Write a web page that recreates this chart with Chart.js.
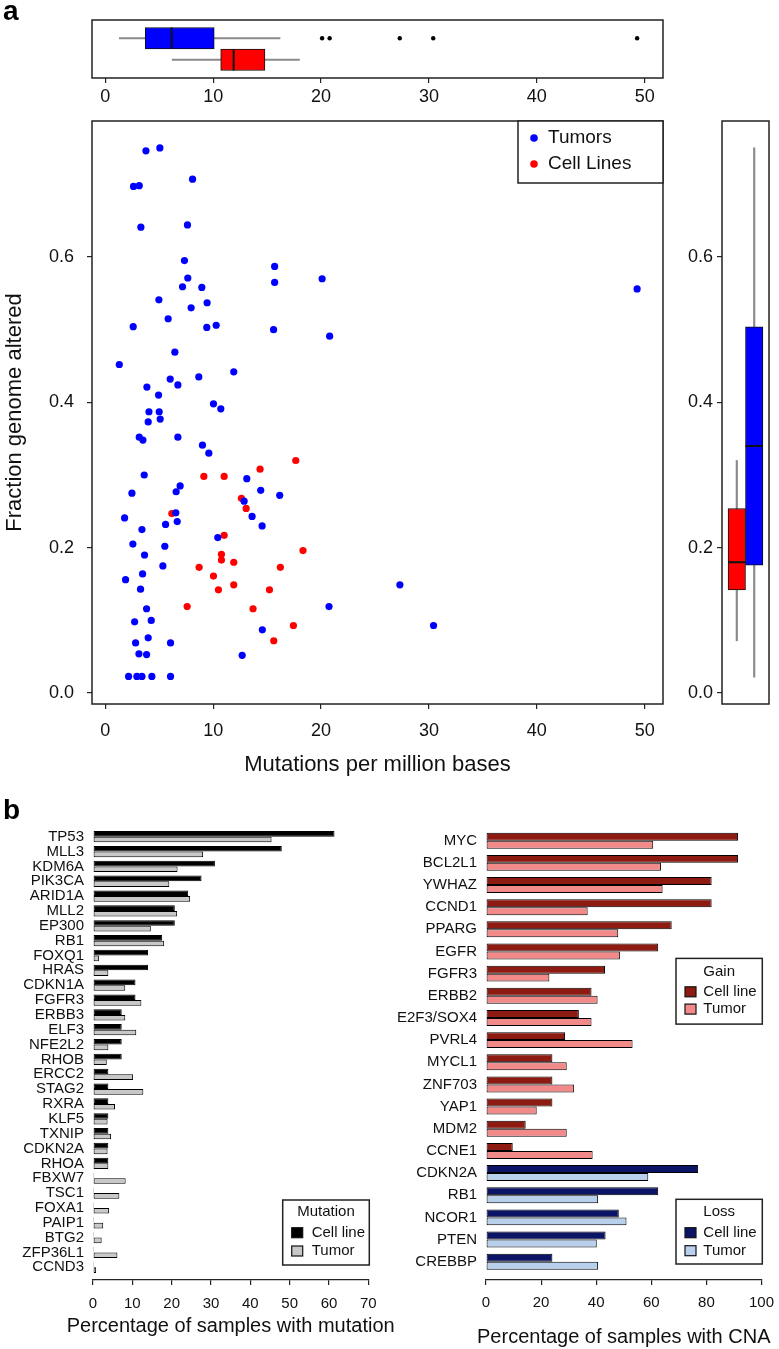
<!DOCTYPE html>
<html><head><meta charset="utf-8">
<script src="https://cdn.jsdelivr.net/npm/chart.js@4.4.1/dist/chart.umd.min.js"></script>
<style>
html,body{margin:0;padding:0;background:#fff;}
#wrap{position:relative;width:779px;height:1349px;overflow:hidden;background:#fff;}
canvas{position:absolute;}
.lbl{position:absolute;font-family:'Liberation Sans',Arial,sans-serif;font-weight:bold;font-size:28px;line-height:1;color:#000;}
</style></head><body>
<div id="wrap">
<canvas id="cTop" width="779" height="110" style="left:0;top:0"></canvas>
<canvas id="cSc" width="672" height="680" style="left:0;top:110px"></canvas>
<canvas id="cRb" width="107" height="680" style="left:672px;top:110px"></canvas>
<canvas id="cMut" width="400" height="549" style="left:0;top:800px"></canvas>
<canvas id="cCna" width="389" height="549" style="left:390px;top:800px"></canvas>
<div class="lbl" style="left:3px;top:-3px">a</div>
<div class="lbl" style="left:3px;top:796px">b</div>
</div>
<script>
// ---------------- DATA ----------------
const tumorX = [3.77,5.06,8.09,2.62,3.15,3.30,7.62,7.34,15.7,7.65,15.7,7.16,8.95,20.1,4.97,9.44,7.96,5.83,2.59,9.41,10.28,15.6,20.8,6.45,1.30,11.91,8.67,6.02,3.86,6.73,4.94,49.3,10.03,10.71,4.05,5.0,3.98,5.09,3.15,3.49,6.73,9.01,9.60,3.61,13.12,14.41,16.17,2.47,6.94,6.57,12.87,13.61,14.54,1.79,6.54,6.67,5.59,3.40,10.43,2.56,5.52,3.64,5.34,3.46,1.88,3.27,3.83,2.72,4.26,14.56,3.98,2.81,6.05,3.12,3.83,12.69,2.16,2.93,3.40,4.32,6.05,27.31,20.74,30.43];
const tumorY = [0.746,0.750,0.707,0.697,0.698,0.641,0.644,0.595,0.587,0.571,0.565,0.559,0.558,0.570,0.541,0.537,0.530,0.515,0.504,0.503,0.506,0.500,0.491,0.469,0.452,0.442,0.435,0.432,0.421,0.424,0.410,0.556,0.398,0.391,0.387,0.387,0.373,0.377,0.352,0.348,0.352,0.341,0.330,0.300,0.295,0.279,0.272,0.275,0.285,0.277,0.264,0.243,0.230,0.241,0.248,0.236,0.232,0.225,0.214,0.205,0.202,0.190,0.175,0.164,0.156,0.143,0.116,0.098,0.100,0.087,0.076,0.069,0.069,0.054,0.053,0.052,0.023,0.023,0.023,0.023,0.023,0.149,0.119,0.093];
const cellX = [9.14,11.02,14.35,17.66,12.62,13.06,6.17,11.02,18.33,10.77,10.77,11.91,8.70,16.23,10.03,10.49,11.91,15.22,7.59,13.70,17.44,15.62];
const cellY = [0.298,0.298,0.308,0.320,0.268,0.254,0.247,0.217,0.196,0.191,0.183,0.180,0.173,0.173,0.161,0.142,0.149,0.142,0.119,0.116,0.093,0.072];

const boxGroups = ['Cell Lines', 'Tumors'];
const boxPos = [1, 2];
// mutations per Mb (top boxplot)
const mutLo = [6.2, 1.3];
const mutQ1 = [10.7, 3.7];
const mutMed = [11.9, 6.15];
const mutQ3 = [14.8, 10.1];
const mutHi = [18.0, 16.2];
const mutOutliers = [20.1, 20.8, 27.3, 30.4, 49.3];
// fraction genome altered (right boxplot)
const fgaLo = [0.072, 0.022];
const fgaQ1 = [0.142, 0.176];
const fgaMed = [0.180, 0.340];
const fgaQ3 = [0.254, 0.504];
const fgaHi = [0.320, 0.750];

const mutTicksX = [0, 10, 20, 30, 40, 50];
const fgaTicks = [0, 0.2, 0.4, 0.6];

const mutGenes = ['TP53','MLL3','KDM6A','PIK3CA','ARID1A','MLL2','EP300','RB1','FOXQ1','HRAS','CDKN1A','FGFR3','ERBB3','ELF3','NFE2L2','RHOB','ERCC2','STAG2','RXRA','KLF5','TXNIP','CDKN2A','RHOA','FBXW7','TSC1','FOXA1','PAIP1','BTG2','ZFP36L1','CCND3'];
const mutCell  = [61.4,48.0,31.0,27.6,24.2,20.8,20.8,17.6,14.0,14.0,10.8,10.8,7.3,7.3,7.3,7.3,3.9,3.9,3.9,3.9,3.9,3.9,3.9,0,0,0,0,0,0,0];
const mutTumor = [45.4,28.0,21.5,19.4,24.7,21.4,14.7,18.1,1.5,3.9,8.2,12.3,8.2,11.0,3.9,3.5,10.2,12.8,5.6,3.7,4.6,3.7,3.9,8.3,6.7,4.1,2.6,2.2,6.2,0.8];
const mutTicks = [0, 10, 20, 30, 40, 50, 60, 70];

const cnaGenes = ['MYC','BCL2L1','YWHAZ','CCND1','PPARG','EGFR','FGFR3','ERBB2','E2F3/SOX4','PVRL4','MYCL1','ZNF703','YAP1','MDM2','CCNE1','CDKN2A','RB1','NCOR1','PTEN','CREBBP'];
const cnaType  = ['gain','gain','gain','gain','gain','gain','gain','gain','gain','gain','gain','gain','gain','gain','gain','loss','loss','loss','loss','loss'];
const cnaCell  = [91.5,91.5,81.9,81.9,67.4,62.5,43.2,38.3,33.7,28.7,24.1,24.1,24.1,14.4,9.7,77.0,62.5,48.2,43.4,24.1];
const cnaTumor = [60.7,63.5,64.1,36.9,48.0,48.6,23.0,40.5,38.3,53.2,29.3,32.0,18.4,29.3,38.7,58.9,40.7,51.0,40.2,40.7];
const cnaTicks = [0, 20, 40, 60, 80, 100];

// ---------------- STYLE ----------------
const FONT = "'Liberation Sans', Arial, Helvetica, sans-serif";
Chart.defaults.font.family = FONT;
Chart.defaults.color = '#111';
Chart.defaults.animation = false;
Chart.defaults.plugins.legend.display = false;
Chart.defaults.plugins.tooltip.enabled = false;

const COL = { tumor: '#0000ff', cell: '#ff0000', gainDark: '#8e1b12', gainLight: '#f38a8a', lossDark: '#0c1466', lossLight: '#b9d0ec', mutCell: '#000000', mutTumor: '#c8c8c8' };

function tickGrid() {
  return { display: true, drawOnChartArea: false, drawTicks: true, tickLength: 5, color: '#222', lineWidth: 1.2 };
}
const setTicks = arr => s => { s.ticks = arr.map(v => ({ value: v })); };

function framePlugin() {
  return { id: 'frame', afterDraw(chart) {
    const { ctx, chartArea: a } = chart;
    ctx.save(); ctx.strokeStyle = '#222'; ctx.lineWidth = 1.5;
    ctx.strokeRect(a.left, a.top, a.right - a.left, a.bottom - a.top);
    ctx.restore();
  } };
}
function medianPlugin(meds, horizontal) {
  return { id: 'medians', afterDatasetsDraw(chart) {
    const { ctx } = chart;
    const vs = chart.scales[horizontal ? 'x' : 'y'];
    const is = chart.scales[horizontal ? 'y' : 'x'];
    ctx.save(); ctx.strokeStyle = '#111'; ctx.lineWidth = 2;
    meds.forEach((m, i) => {
      const v = vs.getPixelForValue(m);
      const a = is.getPixelForValue(boxPos[i] - 0.5), b = is.getPixelForValue(boxPos[i] + 0.5);
      ctx.beginPath();
      if (horizontal) { ctx.moveTo(v, a); ctx.lineTo(v, b); } else { ctx.moveTo(a, v); ctx.lineTo(b, v); }
      ctx.stroke();
    });
    ctx.restore();
  } };
}
// axis title centred under the tick range (R style, not squeezed to the axis width)
function axisTitlePlugin(id, text, size, dy, ticks) {
  return { id, afterDraw(chart) {
    const { ctx, chartArea: a } = chart;
    const s = chart.scales.x;
    const cx = (s.getPixelForValue(ticks[0]) + s.getPixelForValue(ticks[ticks.length - 1])) / 2;
    ctx.save(); ctx.font = size + 'px ' + FONT; ctx.fillStyle = '#111';
    ctx.textAlign = 'center'; ctx.textBaseline = 'middle';
    ctx.fillText(text, cx, a.bottom + dy);
    ctx.restore();
  } };
}
// bordered legend box (R style)
function legendPlugin(id, cfg) {
  return { id, afterDraw(chart) {
    const { ctx, chartArea: a } = chart;
    const right = a.right + cfg.ox;
    const top = cfg.anchor === 'top' ? a.top + cfg.oy : a.bottom + cfg.oy - cfg.h;
    const left = right - cfg.w;
    ctx.save();
    ctx.fillStyle = '#fff'; ctx.fillRect(left, top, cfg.w, cfg.h);
    ctx.strokeStyle = '#222'; ctx.lineWidth = 1.5; ctx.strokeRect(left, top, cfg.w, cfg.h);
    ctx.font = cfg.size + 'px ' + FONT; ctx.textBaseline = 'middle'; ctx.fillStyle = '#111';
    if (cfg.title) { ctx.textAlign = 'center'; ctx.fillText(cfg.title, left + cfg.w / 2, top + cfg.titleY); }
    ctx.textAlign = 'left';
    cfg.items.forEach((it, i) => {
      const y = top + cfg.itemY[i];
      if (cfg.marker === 'circle') {
        ctx.beginPath(); ctx.fillStyle = it.color; ctx.arc(left + cfg.mx, y, 3.8, 0, Math.PI * 2); ctx.fill();
      } else {
        ctx.fillStyle = it.color; ctx.fillRect(left + cfg.mx, y - 5, 11, 10);
        ctx.strokeStyle = '#111'; ctx.lineWidth = 1.2; ctx.strokeRect(left + cfg.mx, y - 5, 11, 10);
      }
      ctx.fillStyle = '#111'; ctx.fillText(it.text, left + cfg.tx, y);
    });
    ctx.restore();
  } };
}

const xMin = -1.23, xMax = 51.7;
const yMin = -0.015, yMax = 0.787;

// ---------------- TOP BOXPLOT ----------------
new Chart(document.getElementById('cTop'), {
  type: 'bar',
  data: { datasets: [
    { label: 'box', order: 1, stack: 'g', categoryPercentage: 1, barPercentage: 1,
      data: boxPos.map((p, i) => ({ y: p, x: [mutQ1[i], mutQ3[i]] })),
      backgroundColor: [COL.cell, COL.tumor], borderColor: '#111', borderWidth: 1, borderSkipped: false },
    { label: 'whisker', order: 2, stack: 'g', barThickness: 1.5,
      data: boxPos.map((p, i) => ({ y: p, x: [mutLo[i], mutHi[i]] })),
      backgroundColor: '#8a8a8a', borderWidth: 0 },
    { type: 'scatter', label: 'outliers', order: 0, indexAxis: 'x',
      data: mutOutliers.map(v => ({ x: v, y: boxPos[1] })),
      backgroundColor: '#000', borderWidth: 0, pointRadius: 2.2, pointHoverRadius: 2.2 }
  ] },
  options: {
    indexAxis: 'y', responsive: false,
    layout: { padding: { left: 92, right: 116, top: 20, bottom: 0 } },
    scales: {
      x: { type: 'linear', stacked: false, min: xMin, max: xMax, bounds: 'data', afterBuildTicks: setTicks(mutTicksX),
        grid: tickGrid(), border: { display: false },
        ticks: { font: { size: 18 }, padding: 3, color: '#111', maxRotation: 0 },
        afterFit: s => { s.height = 32; s.paddingLeft = 0; s.paddingRight = 0; } },
      y: { type: 'linear', display: false, offset: false, min: 0.15, max: 2.85, bounds: 'data', afterBuildTicks: setTicks(boxPos) }
    }
  },
  plugins: [medianPlugin(mutMed, true), framePlugin()]
});

// ---------------- SCATTER ----------------
new Chart(document.getElementById('cSc'), {
  type: 'scatter',
  data: { datasets: [
    { label: 'Tumors', data: tumorX.map((x, i) => ({ x, y: tumorY[i] })), backgroundColor: COL.tumor, borderWidth: 0, pointRadius: 3.6, pointHoverRadius: 3.6 },
    { label: 'Cell Lines', data: cellX.map((x, i) => ({ x, y: cellY[i] })), backgroundColor: COL.cell, borderWidth: 0, pointRadius: 3.6, pointHoverRadius: 3.6 }
  ] },
  options: {
    responsive: false,
    layout: { padding: { left: 0, right: 9, top: 11, bottom: 0 } },
    scales: {
      x: { type: 'linear', min: xMin, max: xMax, bounds: 'data', afterBuildTicks: setTicks(mutTicksX),
        grid: tickGrid(), border: { display: false },
        ticks: { font: { size: 18 }, padding: 11, color: '#111', maxRotation: 0 },
        title: { display: true, text: 'Mutations per million bases', font: { size: 22 }, color: '#111', padding: { top: 0, bottom: 12 } },
        afterFit: s => { s.height = 86; s.paddingLeft = 0; s.paddingRight = 0; } },
      y: { type: 'linear', min: yMin, max: yMax, bounds: 'data', afterBuildTicks: setTicks(fgaTicks),
        grid: tickGrid(), border: { display: false },
        ticks: { font: { size: 18 }, padding: 13, color: '#111', callback: v => v.toFixed(1) },
        title: { display: true, text: 'Fraction genome altered', font: { size: 22 }, color: '#111', padding: { top: 2, bottom: 0 } },
        afterFit: s => { s.width = 92; s.paddingTop = 0; s.paddingBottom = 0; } }
    }
  },
  plugins: [framePlugin(), legendPlugin('scLegend', { anchor: 'top', ox: 0, oy: 0, w: 145, h: 62, size: 19, marker: 'circle', mx: 16, tx: 30, itemY: [17, 43],
    items: [{ text: 'Tumors', color: COL.tumor }, { text: 'Cell Lines', color: COL.cell }] })]
});

// ---------------- RIGHT BOXPLOT ----------------
new Chart(document.getElementById('cRb'), {
  type: 'bar',
  data: { datasets: [
    { label: 'box', order: 1, stack: 'g', categoryPercentage: 1, barPercentage: 1,
      data: boxPos.map((p, i) => ({ x: p, y: [fgaQ1[i], fgaQ3[i]] })),
      backgroundColor: [COL.cell, COL.tumor], borderColor: '#111', borderWidth: 1, borderSkipped: false },
    { label: 'whisker', order: 2, stack: 'g', barThickness: 1.5,
      data: boxPos.map((p, i) => ({ x: p, y: [fgaLo[i], fgaHi[i]] })),
      backgroundColor: '#8a8a8a', borderWidth: 0 }
  ] },
  options: {
    responsive: false,
    layout: { padding: { left: 0, right: 10, top: 11, bottom: 86 } },
    scales: {
      x: { type: 'linear', display: false, offset: false, min: 0.15, max: 2.85, bounds: 'data', afterBuildTicks: setTicks(boxPos) },
      y: { type: 'linear', stacked: false, min: yMin, max: yMax, bounds: 'data', afterBuildTicks: setTicks(fgaTicks),
        grid: tickGrid(), border: { display: false },
        ticks: { font: { size: 18 }, padding: 4, color: '#111', callback: v => v.toFixed(1) },
        afterFit: s => { s.width = 50; s.paddingTop = 0; s.paddingBottom = 0; } }
    }
  },
  plugins: [medianPlugin(fgaMed, false), framePlugin()]
});

// ---------------- MUTATION BARS ----------------
new Chart(document.getElementById('cMut'), {
  type: 'bar',
  data: { datasets: [
    { label: 'Cell line', data: mutGenes.map((g, i) => ({ y: i, x: mutCell[i] })), backgroundColor: COL.mutCell, borderColor: '#000', borderWidth: 1, borderSkipped: false, minBarLength: 1, categoryPercentage: 0.76, barPercentage: 1 },
    { label: 'Tumor', data: mutGenes.map((g, i) => ({ y: i, x: mutTumor[i] })), backgroundColor: COL.mutTumor, borderColor: '#000', borderWidth: 1, borderSkipped: false, minBarLength: 1, categoryPercentage: 0.76, barPercentage: 1 }
  ] },
  options: {
    indexAxis: 'y', responsive: false,
    layout: { padding: { left: 0, right: 31.7, top: 24, bottom: 0 } },
    scales: {
      x: { type: 'linear', min: 0, max: 70, bounds: 'data', afterBuildTicks: setTicks(mutTicks),
        grid: tickGrid(), border: { display: true, color: '#222', width: 1.2 },
        ticks: { font: { size: 15 }, padding: 10, color: '#111', maxRotation: 0 },
        afterFit: s => { s.height = 69; s.paddingLeft = 0; s.paddingRight = 0; } },
      y: { type: 'linear', reverse: true, offset: false, min: -0.855, max: 29.855, bounds: 'data', afterBuildTicks: setTicks(mutGenes.map((g, i) => i)),
        grid: { display: false, drawTicks: false }, border: { display: false },
        ticks: { autoSkip: false, font: { size: 15 }, padding: 9, color: '#111', callback: v => mutGenes[v] },
        afterFit: s => { s.width = 93; s.paddingTop = 0; s.paddingBottom = 0; } }
    }
  },
  plugins: [
    axisTitlePlugin('mutTitle', 'Percentage of samples with mutation', 20, 46.7, mutTicks),
    legendPlugin('mutLegend', { anchor: 'bottom', ox: 1, oy: -15, w: 86.6, h: 65, size: 15, title: 'Mutation', titleY: 12, marker: 'square', mx: 9, tx: 29, itemY: [32.7, 51],
      items: [{ text: 'Cell line', color: COL.mutCell }, { text: 'Tumor', color: COL.mutTumor }] })]
});

// ---------------- CNA BARS ----------------
new Chart(document.getElementById('cCna'), {
  type: 'bar',
  data: { datasets: [
    { label: 'Cell line', data: cnaGenes.map((g, i) => ({ y: i, x: cnaCell[i] })), backgroundColor: cnaType.map(t => t === 'gain' ? COL.gainDark : COL.lossDark), borderColor: '#000', borderWidth: 1, borderSkipped: false, categoryPercentage: 0.72, barPercentage: 1 },
    { label: 'Tumor', data: cnaGenes.map((g, i) => ({ y: i, x: cnaTumor[i] })), backgroundColor: cnaType.map(t => t === 'gain' ? COL.gainLight : COL.lossLight), borderColor: '#000', borderWidth: 1, borderSkipped: false, categoryPercentage: 0.72, barPercentage: 1 }
  ] },
  options: {
    indexAxis: 'y', responsive: false,
    layout: { padding: { left: 0, right: 17.5, top: 22.4, bottom: 0 } },
    scales: {
      x: { type: 'linear', min: 0, max: 100, bounds: 'data', afterBuildTicks: setTicks(cnaTicks),
        grid: tickGrid(), border: { display: true, color: '#222', width: 1.2 },
        ticks: { font: { size: 15 }, padding: 9, color: '#111', maxRotation: 0 },
        afterFit: s => { s.height = 69; s.paddingLeft = 0; s.paddingRight = 0; } },
      y: { type: 'linear', reverse: true, offset: false, min: -0.826, max: 19.826, bounds: 'data', afterBuildTicks: setTicks(cnaGenes.map((g, i) => i)),
        grid: { display: false, drawTicks: false }, border: { display: false },
        ticks: { autoSkip: false, font: { size: 15 }, padding: 9, color: '#111', callback: v => cnaGenes[v] },
        afterFit: s => { s.width = 96; s.paddingTop = 0; s.paddingBottom = 0; } }
    }
  },
  plugins: [
    axisTitlePlugin('cnaTitle', 'Percentage of samples with CNA', 20, 57, cnaTicks),
    legendPlugin('gainLegend', { anchor: 'top', ox: 0.8, oy: 136, w: 86.3, h: 65.7, size: 15, title: 'Gain', titleY: 13.4, marker: 'square', mx: 9, tx: 27.3, itemY: [33.4, 50.7],
      items: [{ text: 'Cell line', color: COL.gainDark }, { text: 'Tumor', color: COL.gainLight }] }),
    legendPlugin('lossLegend', { anchor: 'bottom', ox: 0.8, oy: -16, w: 86.3, h: 64.7, size: 15, title: 'Loss', titleY: 12.4, marker: 'square', mx: 9, tx: 27.3, itemY: [33.4, 51.4],
      items: [{ text: 'Cell line', color: COL.lossDark }, { text: 'Tumor', color: COL.lossLight }] })
  ]
});
</script>
</body></html>
